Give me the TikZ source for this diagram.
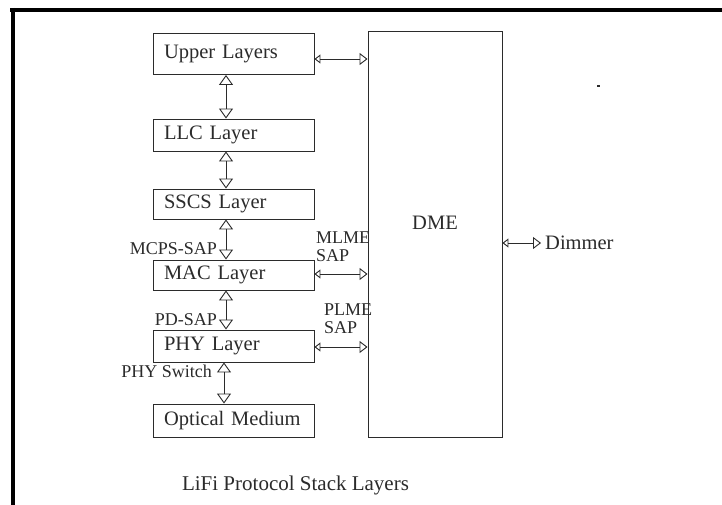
\documentclass[tikz,border=0pt]{standalone}
\usepackage{fontspec}
\setmainfont{Liberation Serif}
\usetikzlibrary{arrows.meta,calc}
\definecolor{ink}{HTML}{2b2b2b}
\tikzset{
  layerbox/.style={draw=ink, line width=0.9pt, text width=139pt, inner xsep=11pt, inner ysep=0pt, align=left,
    font=\fontsize{20.5}{23}\selectfont, text=ink},
  lbl/.style={font=\fontsize{18}{18}\selectfont, text=ink, inner sep=1pt, align=left},
  dbl/.style={draw=ink, line width=0.9pt, {Triangle[open,length=10pt,width=14pt]}-{Triangle[open,length=10pt,width=14pt]}},
  hdbl/.style={draw=ink, line width=0.9pt, {Triangle[open,length=6pt,width=9pt]}-{Triangle[open,length=8pt,width=12pt]}}
}
\begin{document}
\begin{tikzpicture}[x=1pt,y=-1pt]
\useasboundingbox (0,0) rectangle (722,505);
\fill[white] (0,0) rectangle (722,505);
% frame
\draw[line width=4pt] (10,10) -- (722,10);
\draw[line width=4pt] (12.7,8) -- (12.7,505);
% layer boxes
\node[layerbox, minimum height=41pt] (upper) at (233.5,54) {Upper Layers};
\node[layerbox, minimum height=32pt] (llc) at (233.5,135) {LLC Layer};
\node[layerbox, minimum height=30pt] (sscs) at (233.5,204) {SSCS Layer};
\node[layerbox, minimum height=30pt] (mac) at (233.5,275) {MAC Layer};
\node[layerbox, minimum height=32pt] (phy) at (233.5,346) {PHY Layer};
\node[layerbox, minimum height=33pt] (opt) at (233.5,420.5) {Optical Medium};
% DME
\node[draw=ink, line width=0.9pt, minimum width=134pt, minimum height=406pt, inner sep=0pt] (dme) at (435,234.5) {};
\node[font=\fontsize{20.5}{23}\selectfont, text=ink] (dmet) at ([yshift=11.5pt]dme.center) {DME};
% vertical arrows
\draw[dbl] ([xshift=-7.5pt]upper.south) -- ([xshift=-7.5pt]llc.north);
\draw[dbl] ([xshift=-7.5pt]llc.south) -- ([xshift=-7.5pt]sscs.north);
\draw[dbl] ([xshift=-7.5pt]sscs.south) -- ([xshift=-7.5pt]mac.north);
\draw[dbl] ([xshift=-7.5pt]mac.south) -- ([xshift=-7.5pt]phy.north);
\draw[dbl] ([xshift=-9.5pt]phy.south) -- ([xshift=-9.5pt]opt.north);
% horizontal arrows
\draw[hdbl] ([yshift=-5pt]upper.east) -- ([yshift=-5pt]upper.east -| dme.west);
\draw[hdbl] ([yshift=1pt]mac.east) -- ([yshift=1pt]mac.east -| dme.west);
\draw[hdbl] ([yshift=-1pt]phy.east) -- ([yshift=-1pt]phy.east -| dme.west);
\node[font=\fontsize{20.5}{23}\selectfont, text=ink, anchor=west, inner xsep=4pt] (dim) at (541,243) {Dimmer};
\draw[hdbl] (dim.west -| dme.east) -- (dim.west);
% labels
\node[lbl, anchor=east] (mcps) at (218,249) {MCPS-SAP};
\node[lbl, anchor=west] (mlme) at (315,247) {MLME\\SAP};
\node[lbl, anchor=east] (pdsap) at (218,320) {PD-SAP};
\node[lbl, anchor=west] (plme) at (323,319) {PLME\\SAP};
\node[lbl, anchor=east] (phsw) at (213,371) {PHY Switch};
% caption
\node[font=\fontsize{21}{24}\selectfont, text=ink] (cap) at (295.5,485) {LiFi Protocol Stack Layers};
% stray mark
\fill[ink] (596.5,85) rectangle (599.5,87);
\end{tikzpicture}
\end{document}
